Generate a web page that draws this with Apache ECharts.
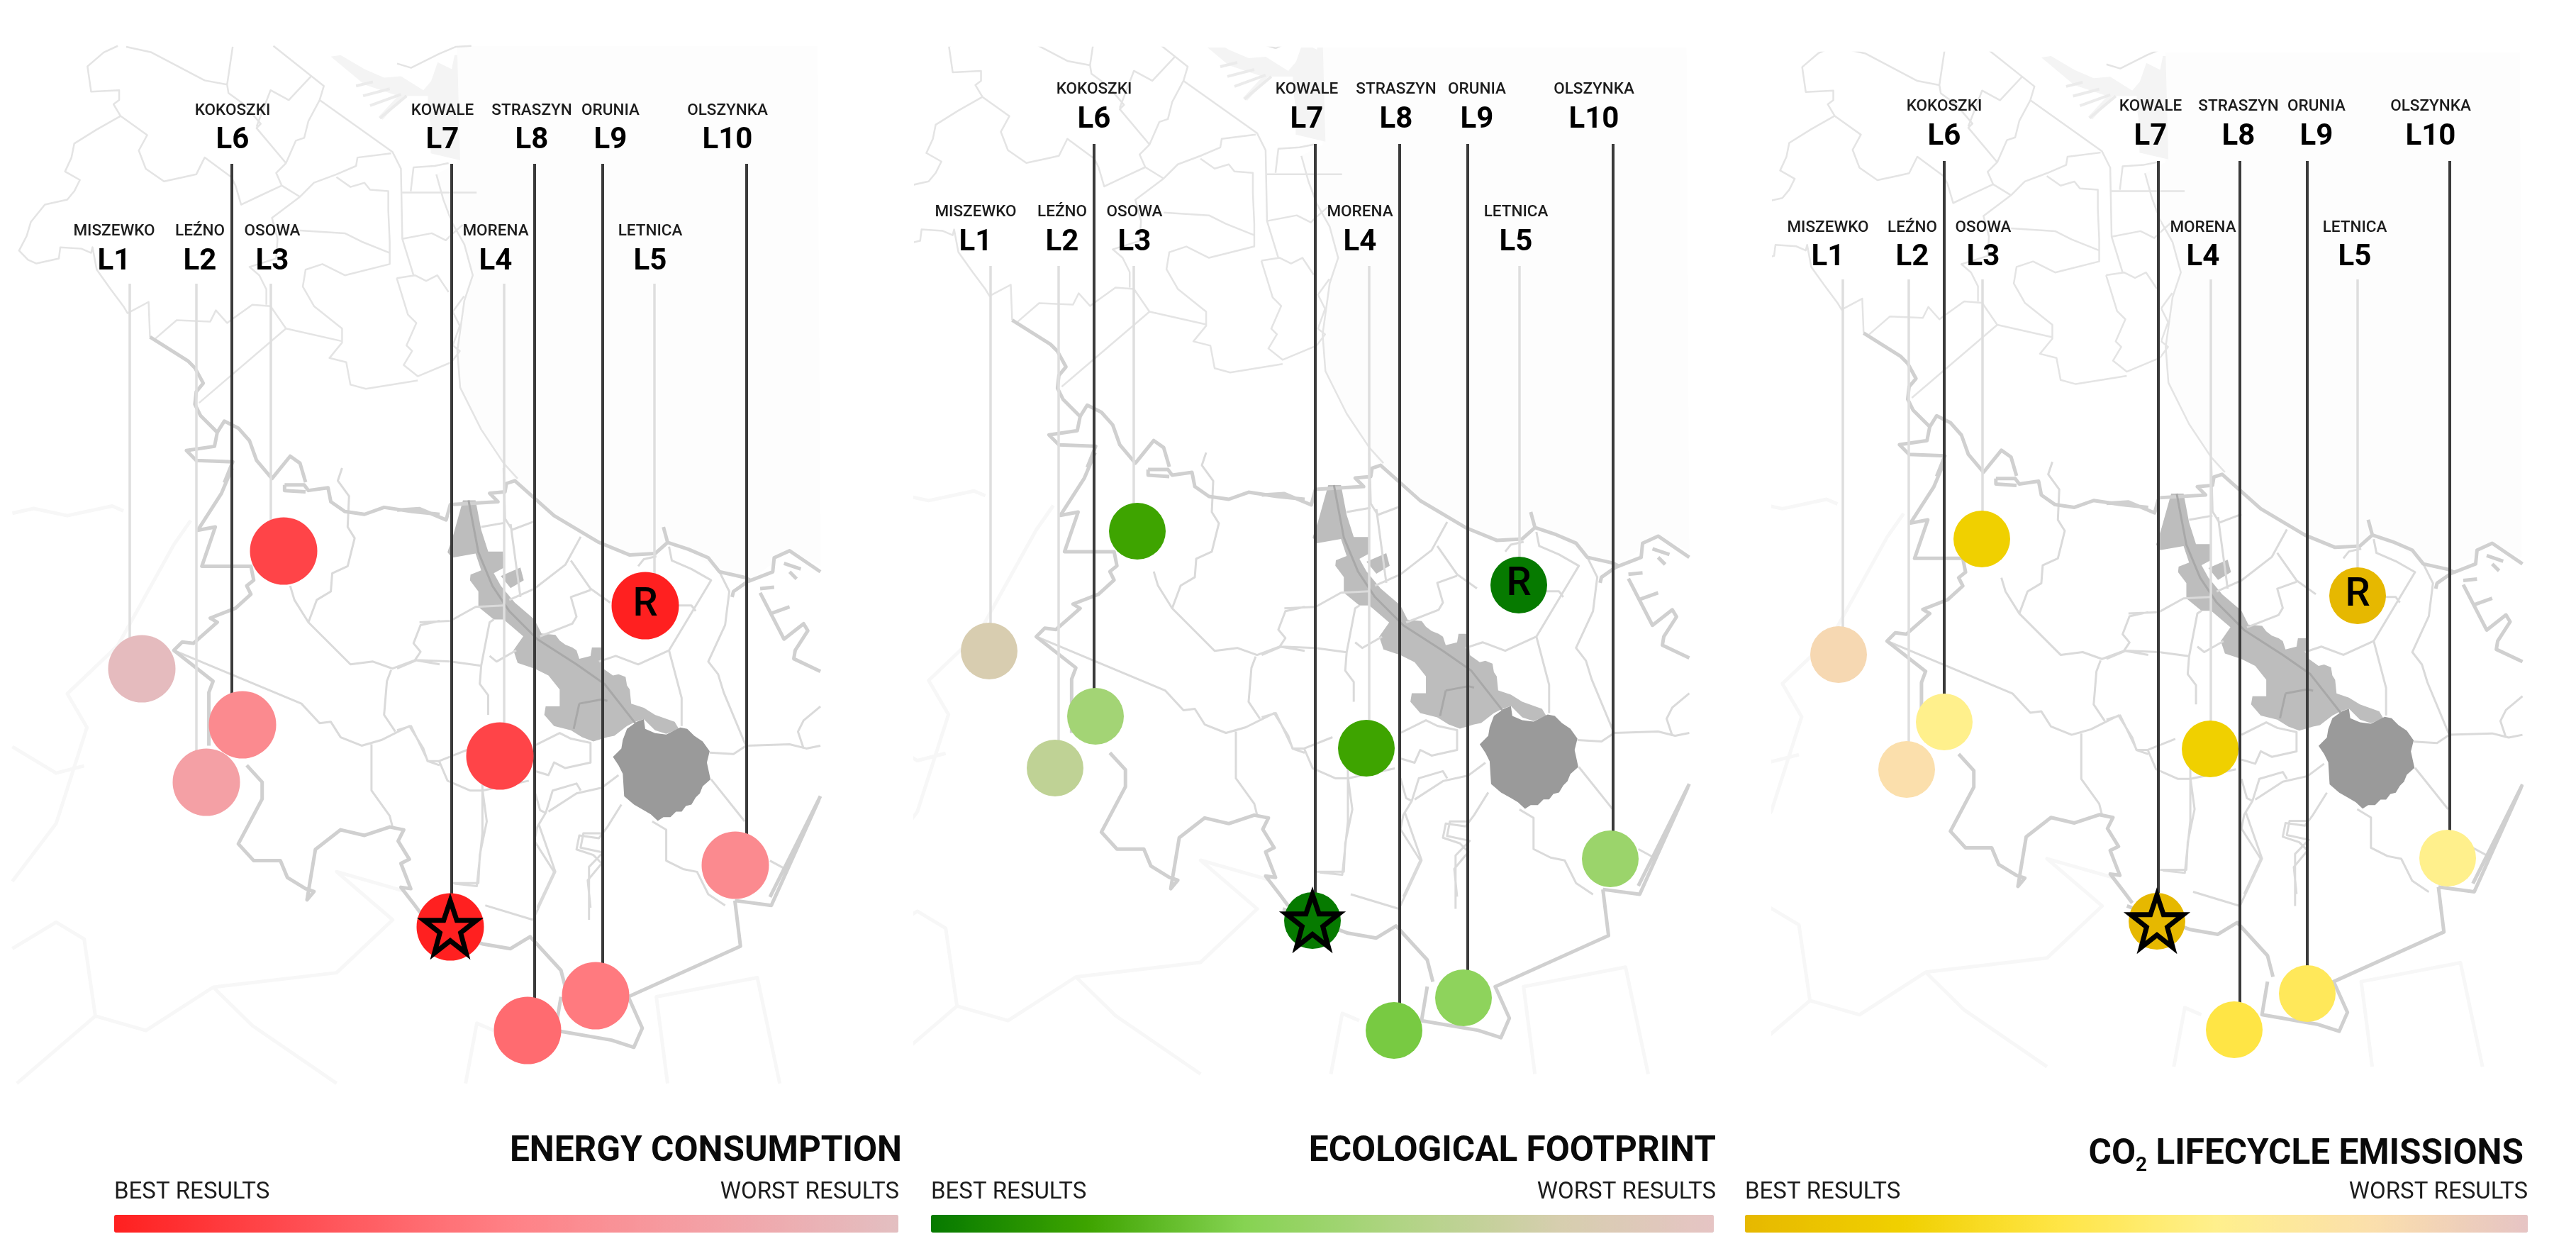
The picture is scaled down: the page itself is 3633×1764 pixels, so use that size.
<!DOCTYPE html>
<html><head><meta charset="utf-8">
<style>html,body{margin:0;padding:0;background:#fff}#c{width:3633px;height:1764px}</style>
<script src="https://cdn.jsdelivr.net/npm/echarts@6/dist/echarts.min.js"></script>
</head><body><div id="c"></div>
<script>
// ---------- chart values ----------
const codes = ['L1','L2','L3','L4','L5','L6','L7','L8','L9','L10'];
const names = ['MISZEWKO','LEŹNO','OSOWA','MORENA','LETNICA','KOKOSZKI','KOWALE','STRASZYN','ORUNIA','OLSZYNKA'];
const titles = ['ENERGY CONSUMPTION','ECOLOGICAL FOOTPRINT','CO{sub|2} LIFECYCLE EMISSIONS'];
const bestLabel = 'BEST RESULTS';
const worstLabel = 'WORST RESULTS';
// position of each location on the shared page axis, per panel
const xEnergy = [200,291,400,705,910,342,635,744,840,1037];
const yEnergy = [943,1103,777,1066,854,1022,1307,1453,1404,1220];
const xEco = [1395,1488,1604,1927,2142,1545,1851,1966,2064,2271];
const yEco = [918,1083,749,1055,825,1010,1298,1453,1407,1211];
const xCo2 = [2593,2689,2795,3117,3325,2742,3042,3151,3254,3452];
const yCo2 = [923,1085,760,1056,840,1018,1299,1452,1401,1210];
// position on the result scale (0 best .. 100 worst)
const scoreEnergy = [97,75,19,19,0,58,0,39,47,58];
const scoreEco = [82,68,20,20,0,54,0,36,44,50];
const scoreCo2 = [85,80,20,20,0,60,0,40,46,60];
// leader lines
const stemEnergy = [183,277,382,711,923,327,637,754,850,1053];
const stemEco = [1397,1493,1599,1931,2143,1543,1855,1974,2070,2275];
const stemCo2 = [2599,2692,2796,3118,3325,2742,3044,3159,3254,3455];
// label anchors
const labelEnergy = [161,282,384,699,917,328,624,750,861,1026];
const labelEco = [1376,1498,1600,1918,2138,1543,1843,1969,2083,2248];
const labelCo2 = [2578,2697,2797,3107,3321,2742,3033,3157,3267,3428];
const isLong = [0,0,0,0,0,1,1,1,1,1];
const rampEnergy = ['#ff2020','#ff5055','#ff8085','#f4a0a5','#e3bfc1'];
const rampEco = ['#067a00','#3ea400','#86d352','#b0d484','#d6ceae','#e6c4c4'];
const rampCo2 = ['#e6b800','#f0d000','#ffe545','#fff08c','#fbdfac','#e6c4c4'];

// ---------- background map, in map units (panel-1 pixels) ----------
const S = 1568/620;
const T = (ox,oy,sx,sy,f)=>{const o=[];for(let i=0;i<f.length;i+=2)o.push([ox+f[i]/sx,oy+f[i+1]/sy]);return o;};
const A=f=>T(0,60,S,S,f), B=f=>T(560,60,S,S,f), C=f=>T(0,660,S,S,f), D=f=>T(560,660,S,S,f), Z=f=>T(0,700,1.264,1.474,f);

const mapThin = [
 A([420,12,370,35,312,85,325,175,425,170,425,205,405,220,430,262,345,310,265,360,255,410,232,460,285,490,265,530,240,560,160,578,110,640,95,690,68,742,100,775,130,788,210,770,215,730,290,735,325,750,330,730,345,810,395,880,440,940,455,965,530,925,535,1050]),
 A([450,15,540,35,730,135,810,150,830,15]),
 A([810,150,815,180,870,220,930,290,915,305,1020,430,985,465,1005,510,1070,550]),
 A([1005,510,930,545,860,578,840,510,825,480,730,410,700,470,655,480,585,495,520,450,495,385,525,330,430,262]),
 A([975,12,1155,155,1140,205,1400,390,1430,450,1435,700,1475,830]),
 A([1110,120,1030,205,965,170,915,300]),
 A([1140,205,1100,280,1085,340,1055,350,1020,430]),
 A([1070,550,970,625,990,700,985,770,890,800,925,830,950,880,950,935]),
 A([1395,395,1275,410,1270,440,1200,470,1120,500,1070,550]),
 A([1200,480,1250,515,1300,500,1320,525,1385,530,1385,600,1390,710,1390,790,1230,830,1150,790,1090,810,1080,870,1120,940,1220,1020,1220,1070,1175,1125,1235,1140,1250,1220,1305,1235,1490,1205]),
 A([1070,670,1230,680,1290,710,1390,750]),
 A([555,1055,630,990,750,995,770,955,810,1000,830,985,900,935,965,940,1020,1020,1220,1065]),
 A([1020,1020,710,1285]),
 A([1435,535,1700,535]),
 A([1465,530,1475,445,1550,440,1600,430]),
 A([1435,700,1540,680,1590,705,1605,690,1650,650]),
 A([1415,840,1480,830,1520,850,1560,830,1600,890]),
 A([1415,840,1455,970,1485,1000,1450,1080,1470,1100,1440,1150,1490,1190,1610,1140,1640,1100,1615,1080,1640,1010,1615,960,1655,905]),
 B([0,75,50,90,150,40,210,15,265,12]),
 B([140,470,165,560,195,640,240,720,270,830,240,920,215,1100,225,1230,300,1380,380,1500,430,1555])
];
const mapMid = [
 C([1100,550,1130,470,1180,440,1185,375,1240,350,1265,250,1240,210,1245,100,1205,45,1220,0]),
 C([1035,420,1050,470,1100,550,1250,700,1330,690,1400,715,1480,685,1568,700]),
 C([1480,685,1500,655,1475,625,1500,560,1568,545]),
 C([620,650,1075,840,1140,910,1180,905,1215,960,1290,990,1360,970,1460,920,1510,1000,1525,1045,1568,1060]),
 C([1325,985,1325,1150,1390,1240,1400,1280]),
 C([1410,940,1370,880,1380,760,1395,720]),
 D([0,715,70,685,190,690,300,705,295,770,325,810,325,880]),
 D([80,550,190,545,280,495,380,490]),
 D([300,705,330,550,345,540]),
 D([400,470,490,430,600,345,655,245]),
 D([620,330,690,430,760,480]),
 D([690,435,620,460,640,530,625,555,510,600]),
 D([330,670,355,690,425,650]),
 D([380,0,385,180,410,220,490,190]),
 D([300,210,385,195]),
 D([405,200,440,460]),
 D([0,935,50,920,110,1045,150,1045,250,1005]),
 D([150,1045,180,1115,260,1150,305,1150,470,1115]),
 D([305,1150,320,1260,295,1380,290,1480,190,1480]),
 D([490,990,580,945,620,965,690,980,690,1050,600,1070,560,1050,540,1095,490,1080]),
 D([540,1225,640,1160,730,1140,790,1095]),
 D([530,1230,555,1150,640,1125,655,1150]),
 D([490,1150,510,1220,530,1230,500,1280,490,1330,560,1440,500,1568]),
 D([720,690,780,670,860,700,970,650,1090,450,1120,400,1050,360,980,330,970,280]),
 D([1000,490,1050,490,1065,510]),
 D([860,350,880,325,925,315]),
 D([970,650,1015,820,1015,920]),
 D([1150,370,1185,440,1170,560,1110,690,1145,735,1165,800,1240,980,1245,990,1400,985,1460,1000,1510,990]),
 D([1245,990,1200,1020,1115,1015]),
 D([1120,1110,1240,1260]),
 D([1450,1000,1430,940,1450,900,1510,850]),
 D([1330,1400,1385,1430]),
 D([910,1260,960,1290,960,1400,1020,1430,1070,1440,1110,1520,1170,1560]),
 D([800,1200,750,1280,720,1320,650,1310,640,1360,700,1380,730,1410,680,1470,690,1568]),
 Z([860,580,860,700,850,810,810,805]),
 Z([960,680,990,780,950,880,865,850]),
 Z([1050,880,1050,770,1075,740,1035,730,1040,700,1075,700])
];
const mapMajor = [
 A([535,1050,670,1135,695,1160,725,1215,700,1245,695,1290,715,1330,775,1390,800,1350,850,1375,890,1420,915,1490,970,1555,1035,1475,1070,1500,1090,1568]),
 A([775,1390,765,1440,665,1455,700,1490,830,1495,800,1570]),
 C([1015,60,1085,60,1100,80,1170,70,1180,120,1230,155,1300,165,1370,140,1470,155,1568,165]),
 C([1015,60,1015,80,1090,85]),
 C([828,0,790,90,705,222,768,210,720,350,895,350,905,400,880,420,895,450,840,500,750,535,775,550,690,625,650,620,620,650,760,760,745,800,745,990]),
 C([880,1060,935,1120,935,1180,850,1340,905,1400,1000,1400,1025,1460,1090,1500,1120,1510,1095,1540,1125,1360,1215,1290,1300,1310,1390,1280,1440,1290,1420,1330,1460,1395,1430,1410,1465,1500,1430,1495,1480,1560,1510,1600]),
 D([0,150,80,145,175,185,190,130,360,120,330,90,385,85,390,55,420,45,560,170,720,265,830,310,920,305,965,265,950,210]),
 D([965,265,1040,290,1110,320,1150,370,1240,390,1260,400]),
 D([1195,460,1200,440,1250,405,1340,370,1345,320,1400,295,1510,370]),
 D([1380,340,1440,360]),D([1400,370,1425,395]),
 D([1295,430,1345,425]),
 D([1295,445,1380,610,1450,555,1465,580,1420,650,1415,680,1510,725]),
 D([1330,520,1400,495]),
 D([1510,1170,1380,1430,1330,1530]),
 Z([745,880,860,930,910,940,945,915,1000,985,1010,1030]),
 Z([1000,1040,990,1110,1090,1130,1130,1145,1145,1105,1120,1040,1320,935,1310,840]),
 Z([1310,840,1375,850,1460,630])
];
const mapFaint = [
 Z([22,800,100,680,155,480,120,410,210,310,310,100,340,50]),
 Z([22,35,60,25,120,40,200,20,220,30]),
 Z([22,520,100,575,150,560]),
 Z([22,940,100,885,150,920,170,1080,260,1110,380,1020,450,1100,600,1220]),
 Z([170,1080,30,1220]),
 Z([380,1020,600,990,700,880,600,780,720,820]),
 Z([830,1220,850,1095,880,1110]),
 Z([1190,1220,1170,1040,1350,1000,1390,1220])
];
const mapStripes = [
 A([1270,155,1330,140]),A([1295,190,1390,165]),A([1320,225,1430,185]),A([1355,270,1450,190])
];
const mapInner = [
 D([255,115,290,300,340,420,400,510,500,610,640,700,740,770,850,910]),
 D([650,840,630,930]),D([650,840,730,825,750,830])
];
const polySea = [
 [...B([215,12,1500,12]),...D([1510,350,1400,295,1260,400,1150,370,1040,290,965,265,920,305,830,310,720,265,560,170,420,45]),...B([380,1500,300,1380,225,1230,215,1100,240,920,270,830,240,720,195,640,165,560,140,470,215,430])]
];
const polyShipyard = [
 A([1180,50,1215,45,1300,95,1370,125,1430,120,1510,170,1540,135,1568,100,1568,190,1500,190,1440,190,1365,275,1350,265,1420,190,1300,150]),
 B([110,170,145,70,195,95,205,45,215,45,225,420,120,395,120,300,110,230])
];
const polyLight = [
 D([235,115,280,115,300,220,325,298,378,298,382,355,345,375,370,420,420,480,490,540,515,590,565,595,580,615,600,630,625,640,640,650,650,680,690,670,695,640,730,640,735,715,770,740,790,735,815,745,820,775,830,790,835,840,880,855,920,880,990,905,1005,930,960,948,920,935,880,895,850,905,820,920,775,955,750,960,700,975,660,960,620,935,560,920,525,880,530,850,580,850,580,790,540,740,490,715,430,695,415,650,450,600,380,540,345,540,290,495,290,440,260,400,262,380,300,365,280,305,195,320,180,300,200,240]),
 D([370,385,440,355,452,400,405,428])
];
const polyDark = [
 D([855,905,880,895,885,930,920,945,960,950,1010,925,1035,930,1060,955,1090,975,1115,1010,1105,1050,1118,1110,1090,1135,1080,1160,1065,1175,1050,1200,1030,1205,1015,1225,995,1225,975,1245,950,1245,930,1258,905,1235,880,1220,845,1200,810,1170,805,1090,790,1060,770,1030,800,1000,805,970,820,930])
];

// ---------- options ----------
const panelsMap = [
 {left:17,top:64,width:1140,height:1464,x:[17,1157],y:[64,1528]},
 {left:1291,top:67,width:1114,height:1461,x:[76.4,1179.4],y:[94.6,1541]},
 {left:2501,top:74,width:1055,height:1459,x:[82,1155.5],y:[72.6,1557]}
];
const grid=[], xAxis=[], yAxis=[], series=[];
const flat=list=>{const o=[];list.forEach(l=>{l.forEach(p=>o.push(p));o.push(['-','-']);});return o;};
panelsMap.forEach((m,i)=>{
 grid.push({left:m.left,top:m.top,width:m.width,height:m.height,containLabel:false});
 xAxis.push({type:'value',gridIndex:i,min:m.x[0],max:m.x[1],show:false});
 yAxis.push({type:'value',gridIndex:i,min:m.y[0],max:m.y[1],inverse:true,show:false});
 const poly=(list,fill,z)=>series.push({type:'custom',xAxisIndex:i,yAxisIndex:i,silent:true,clip:true,z,
   data:list.map((_,k)=>[k,0]),
   renderItem:(p,api)=>({type:'polygon',shape:{points:list[p.dataIndex].map(q=>api.coord(q))},style:{fill}})});
 const line=(list,color,width,z)=>series.push({type:'line',xAxisIndex:i,yAxisIndex:i,silent:true,z,showSymbol:false,symbol:'none',
   data:flat(list),lineStyle:{color,width,join:'round'},connectNulls:false});
 poly(polySea,'#fdfdfd',0);
 line(mapFaint,'#f7f7f7',5,1);
 poly(polyShipyard,'#f4f4f4',1);
 line(mapStripes,'#ebebeb',4,1);
 line(mapThin,'#e4e4e4',2.5,2);
 line(mapMid,'#dadada',3,2);
 line(mapMajor,'#d0d0d0',5,2);
 poly(polyLight,'#bdbdbd',2);
 poly(polyDark,'#9a9a9a',2);
 line(mapInner,'#a8a8a8',3,2);
});
// overlay grid: page axis for locations
grid.push({left:0,top:0,width:3633,height:1764});
xAxis.push({type:'value',gridIndex:3,min:0,max:3633,show:false});
yAxis.push({type:'value',gridIndex:3,min:0,max:1764,inverse:true,show:false});

const panels=[
 {x:xEnergy,y:yEnergy,score:scoreEnergy,stem:stemEnergy,label:labelEnergy,ramp:rampEnergy,size:95,rowName:[326,156],rowCode:[369,198],stemTop:[400,231],
  bar:[161,1106],titleRight:3633-1272,worstRight:3633-1268},
 {x:xEco,y:yEco,score:scoreEco,stem:stemEco,label:labelEco,ramp:rampEco,size:80,rowName:[299,126],rowCode:[342,169],stemTop:[375,203],
  bar:[1313,1104],titleRight:3633-2420,worstRight:3633-2420},
 {x:xCo2,y:yCo2,score:scoreCo2,stem:stemCo2,label:labelCo2,ramp:rampCo2,size:80,rowName:[321,150],rowCode:[363,193],stemTop:[394,227],
  bar:[2461,1104],titleRight:3633-3559,worstRight:3633-3565}
];
const FONT='Roboto';
const visualMap=[], title=[];
const STAR='path://M50 2L62 37L98 37L69 59L79 95L50 73L21 95L31 59L2 37L38 37Z';
panels.forEach((p,i)=>{
 const stems=(flag)=>{const o=[];codes.forEach((c,k)=>{if(isLong[k]===flag){o.push([p.stem[k],p.stemTop[flag]]);o.push([p.stem[k],p.y[k]]);o.push(['-','-']);}});return o;};
 series.push({type:'line',xAxisIndex:3,yAxisIndex:3,silent:true,z:3,symbol:'none',data:stems(0),lineStyle:{color:'#dedede',width:3.5}});
 series.push({type:'line',xAxisIndex:3,yAxisIndex:3,silent:true,z:3,symbol:'none',data:stems(1),lineStyle:{color:'#3a3a3a',width:4}});
 const idx=series.length;
 series.push({type:'scatter',xAxisIndex:3,yAxisIndex:3,silent:true,z:5,symbol:'circle',symbolSize:p.size,itemStyle:{opacity:1},
   encode:{x:0,y:1},data:p.x.map((x,k)=>[x,p.y[k],p.score[k]])});
 visualMap.push({type:'continuous',seriesIndex:idx,dimension:2,min:0,max:100,orient:'horizontal',left:p.bar[0],top:1713,padding:0,
   itemWidth:25,itemHeight:p.bar[1],text:null,showLabel:false,calculable:false,hoverLink:false,realtime:false,inRange:{color:p.ramp,opacity:1}});
 // R and star overlays
 series.push({type:'scatter',xAxisIndex:3,yAxisIndex:3,silent:true,z:6,symbolSize:1,itemStyle:{color:'rgba(0,0,0,0)',opacity:1},
   data:[[p.x[4],p.y[4]]],label:{show:true,position:'inside',formatter:'R',fontFamily:FONT,fontSize:56,fontWeight:500,color:'#000'}});
 series.push({type:'scatter',xAxisIndex:3,yAxisIndex:3,silent:true,z:6,symbol:STAR,symbolSize:74,
   itemStyle:{color:'rgba(0,0,0,0)',borderColor:'#000',borderWidth:7,borderJoin:'miter',opacity:1},data:[[p.x[6],p.y[6]]]});
 // names and codes
 const lab=(txt,rows,size,weight,color)=>series.push({type:'scatter',xAxisIndex:3,yAxisIndex:3,silent:true,z:7,symbolSize:1,itemStyle:{color:'rgba(0,0,0,0)',opacity:1},
   data:codes.map((c,k)=>({value:[p.label[k],rows[isLong[k]]],name:txt[k]})),
   label:{show:true,position:'inside',formatter:'{b}',fontFamily:FONT,fontSize:size,fontWeight:weight,color}});
 lab(names,p.rowName,22.5,500,'#1c1c1c');
 lab(codes,p.rowCode,42,700,'#000');
 // captions
 title.push({text:titles[i],right:p.titleRight,top:1600,padding:0,textStyle:{fontFamily:FONT,fontSize:49.5,fontWeight:700,color:'#0a0a0a',
   rich:{sub:{fontFamily:FONT,fontSize:28,fontWeight:700,color:'#0a0a0a',padding:[30,0,0,0]}}}});
 title.push({text:bestLabel,left:p.bar[0],top:1665,padding:0,textStyle:{fontFamily:FONT,fontSize:33,fontWeight:400,color:'#1c1c1c'}});
 title.push({text:worstLabel,right:p.worstRight,top:1665,padding:0,textStyle:{fontFamily:FONT,fontSize:33,fontWeight:400,color:'#1c1c1c'}});
});
const chart=echarts.init(document.getElementById('c'),null,{renderer:'canvas',width:3633,height:1764});
chart.setOption({backgroundColor:'#ffffff',animation:false,title,grid,xAxis,yAxis,visualMap,series});
</script></body></html>
